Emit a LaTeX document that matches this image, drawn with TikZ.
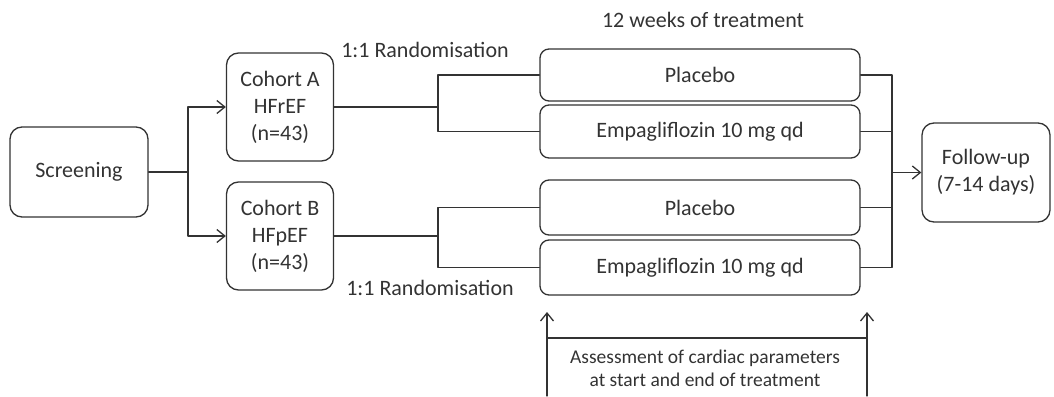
\documentclass[tikz,border=0pt]{standalone}
\usepackage{fontspec}
\setmainfont{Carlito}
\usetikzlibrary{arrows.meta}
\begin{document}
\begin{tikzpicture}[x=1pt, y=-1pt, line join=round, line cap=round, line width=1.3pt, color=black!80,
	>={Straight Barb[length=8pt,width=13pt]},
	box/.style={draw, rounded corners=12pt, align=center, inner sep=0pt, font=\fontsize{22}{27}\selectfont},
	arm/.style={box, rounded corners=9pt, minimum width=320pt},
	lbl/.style={font=\fontsize{22}{27}\selectfont}]
	\useasboundingbox (0,0) rectangle (1054,396);
	% boxes
	\node[box, minimum width=138pt, minimum height=90pt] (screen) at (79,172) {Screening};
	\node[box, minimum width=107pt, minimum height=108pt] (cohA) at (280,107) {Cohort A\\HFrEF\\(n=43)};
	\node[box, minimum width=107pt, minimum height=108pt] (cohB) at (280,236) {Cohort B\\HFpEF\\(n=43)};
	\node[arm, minimum height=52pt] (plcA) at (700,75) {Placebo};
	\node[arm, minimum height=53pt] (empA) at (700,131.5) {Empagliflozin 10 mg qd};
	\node[arm, minimum height=55pt] (plcB) at (700,207.5) {Placebo};
	\node[arm, minimum height=55pt] (empB) at (700,267.5) {Empagliflozin 10 mg qd};
	\node[box, minimum width=128pt, minimum height=99pt] (fup) at (986,172.5) {Follow-up\\(7-14 days)};
	% labels
	\node[lbl] (randA) at (425,50) {1:1 Randomisation};
	\node[lbl] (randB) at (430,288) {1:1 Randomisation};
	\node[lbl] (weeks) at (703,20) {12 weeks of treatment};
	\node[align=center, font=\fontsize{19.5}{23}\selectfont] (assess) at (705,368) {Assessment of cardiac parameters\\at start and end of treatment};
	% junctions
	\coordinate (split) at (188,172);
	\coordinate (randAj) at (438,107);
	\coordinate (randBj) at (438,236);
	\coordinate (merge) at (892,172.5);
	\draw (screen.east) -- (split);
	\draw[->] (split) |- (cohA.west);
	\draw[->] (split) |- (cohB.west);
	\draw (cohA.east) -- (randAj);
	\draw (cohB.east) -- (randBj);
	\draw (randAj) |- (plcA.west); \draw (randAj) |- (empA.west);
	\draw (randBj) |- (plcB.west); \draw (randBj) |- (empB.west);
	\foreach \n in {plcA,empA,plcB,empB}{\draw (\n.east) -| (merge);};
	\draw[->] (merge) -- (fup.west);
	% assessment
	\coordinate (startlo) at (547,396); \coordinate (starthi) at (547,312); \coordinate (startmid) at (547,338);
	\coordinate (endlo) at (867,396); \coordinate (endhi) at (867,312); \coordinate (endmid) at (867,338);
	\draw[->] (startlo) -- (starthi);
	\draw[->] (endlo) -- (endhi);
	\draw (startmid) -- (endmid);
\end{tikzpicture}
\end{document}
